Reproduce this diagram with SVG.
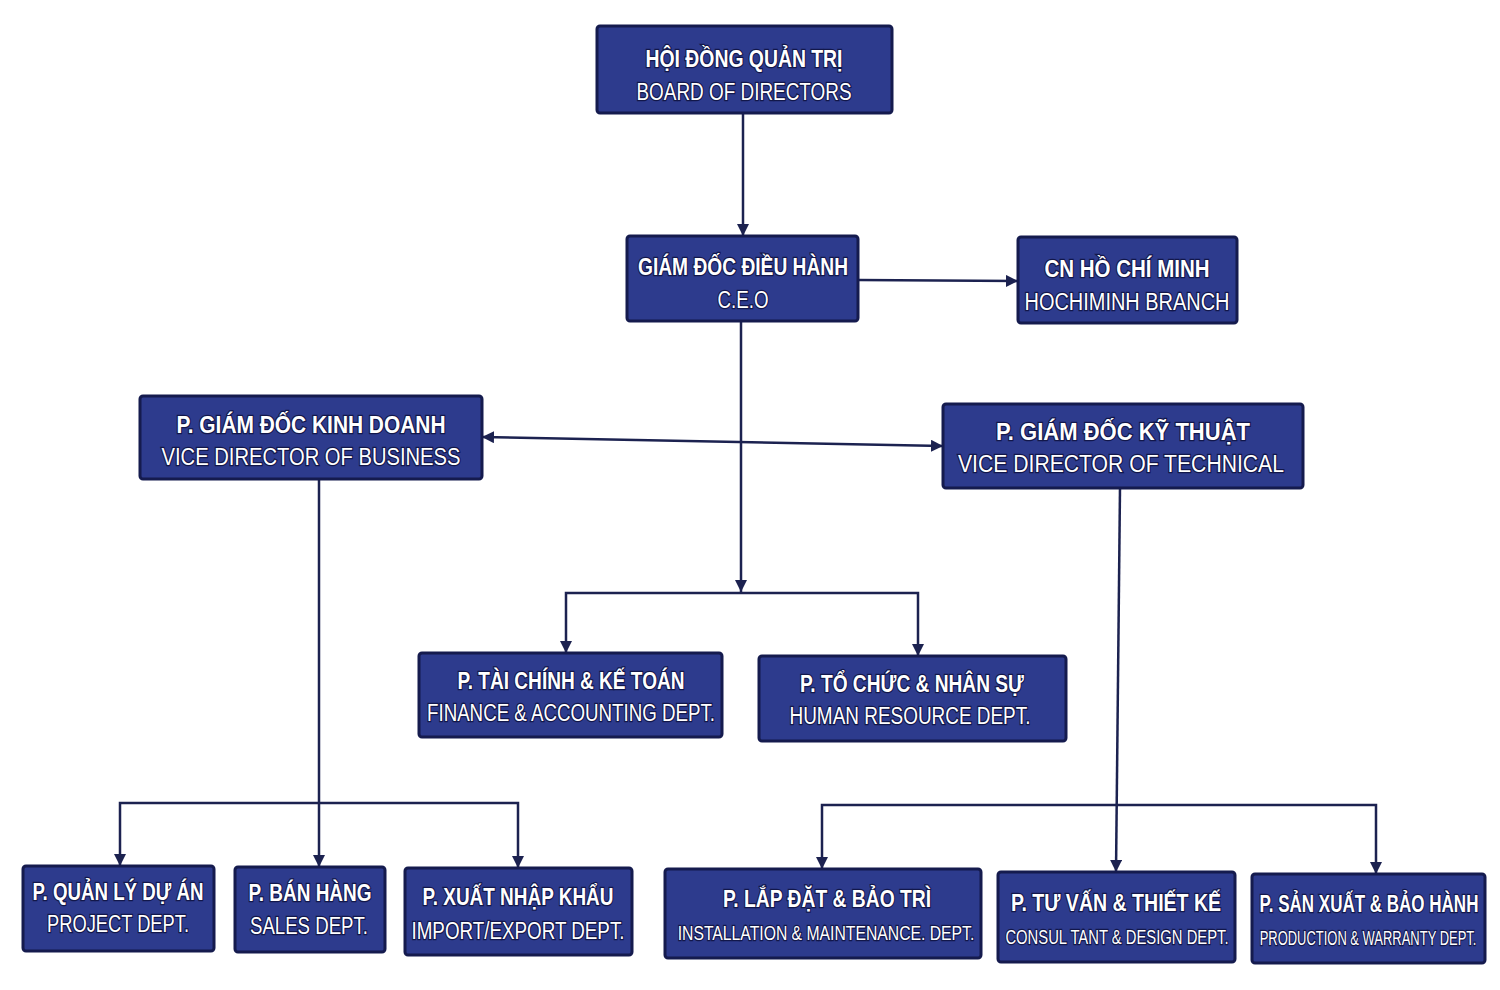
<svg xmlns="http://www.w3.org/2000/svg" width="1500" height="990" viewBox="0 0 1500 990">
<defs>
<marker id="ah" viewBox="0 0 12 12" refX="12" refY="6" markerWidth="12" markerHeight="12" markerUnits="userSpaceOnUse" orient="auto-start-reverse">
<path d="M0,0 L12,6 L0,12 Z" fill="#1c2250"/>
</marker>
<style>
.box{fill:#2d3b8d;stroke:#151b4e;stroke-width:3}
.t1,.t2{fill:#ffffff;stroke:#12174a;stroke-width:2.5;paint-order:stroke;text-anchor:middle;font-family:"Liberation Sans Narrow","Liberation Sans",Arial,sans-serif}
.t1{font-weight:bold;font-size:24px}
.t2{font-size:23px}
.t3{font-size:20px}
.c{fill:none;stroke:#1c2250;stroke-width:2.5}
</style>
</defs>
<rect width="1500" height="990" fill="#ffffff"/>
<g id="connectors">
<path class="c" d="M743,113 V236" marker-end="url(#ah)"/>
<path class="c" d="M858,280 L1018,281" marker-end="url(#ah)"/>
<path class="c" d="M482,437 L943,446" marker-start="url(#ah)" marker-end="url(#ah)"/>
<path class="c" d="M741,321 V592" marker-end="url(#ah)"/>
<path class="c" d="M566,653 V593 H918 V656" marker-start="url(#ah)" marker-end="url(#ah)"/>
<path class="c" d="M319,479 V867" marker-end="url(#ah)"/>
<path class="c" d="M120,866 V803 H518 V868" marker-start="url(#ah)" marker-end="url(#ah)"/>
<path class="c" d="M1120,488 L1116,872" marker-end="url(#ah)"/>
<path class="c" d="M822,869 V805 H1376 V874" marker-start="url(#ah)" marker-end="url(#ah)"/>
</g>
<g id="board"><rect class="box" x="597" y="26" width="295" height="87" rx="3"/>
<text class="t1" x="744" y="67" textLength="197" lengthAdjust="spacingAndGlyphs">HỘI ĐỒNG QUẢN TRỊ</text>
<text class="t2" x="744" y="100" textLength="215" lengthAdjust="spacingAndGlyphs">BOARD OF DIRECTORS</text></g>
<g id="ceo"><rect class="box" x="627" y="236" width="231" height="85" rx="3"/>
<text class="t1" x="743" y="275" textLength="210" lengthAdjust="spacingAndGlyphs">GIÁM ĐỐC ĐIỀU HÀNH</text>
<text class="t2" x="743" y="308" textLength="51" lengthAdjust="spacingAndGlyphs">C.E.O</text></g>
<g id="hcm"><rect class="box" x="1018" y="237" width="219" height="86" rx="3"/>
<text class="t1" x="1127" y="277" textLength="165" lengthAdjust="spacingAndGlyphs">CN HỒ CHÍ MINH</text>
<text class="t2" x="1127" y="310" textLength="205" lengthAdjust="spacingAndGlyphs">HOCHIMINH BRANCH</text></g>
<g id="vd-business"><rect class="box" x="140" y="396" width="342" height="83" rx="3"/>
<text class="t1" x="311" y="433" textLength="269" lengthAdjust="spacingAndGlyphs">P. GIÁM ĐỐC KINH DOANH</text>
<text class="t2" x="311" y="465" textLength="299" lengthAdjust="spacingAndGlyphs">VICE DIRECTOR OF BUSINESS</text></g>
<g id="vd-technical"><rect class="box" x="943" y="404" width="360" height="84" rx="3"/>
<text class="t1" x="1123" y="440" textLength="254" lengthAdjust="spacingAndGlyphs">P. GIÁM ĐỐC KỸ THUẬT</text>
<text class="t2" x="1121" y="472" textLength="326" lengthAdjust="spacingAndGlyphs">VICE DIRECTOR OF TECHNICAL</text></g>
<g id="finance"><rect class="box" x="419" y="653" width="303" height="84" rx="3"/>
<text class="t1" x="571" y="689" textLength="227" lengthAdjust="spacingAndGlyphs">P. TÀI CHÍNH &amp; KẾ TOÁN</text>
<text class="t2" x="571" y="721" textLength="288" lengthAdjust="spacingAndGlyphs">FINANCE &amp; ACCOUNTING DEPT.</text></g>
<g id="hr"><rect class="box" x="759" y="656" width="307" height="85" rx="3"/>
<text class="t1" x="912" y="692" textLength="224" lengthAdjust="spacingAndGlyphs">P. TỔ CHỨC &amp; NHÂN SỰ</text>
<text class="t2" x="910" y="724" textLength="241" lengthAdjust="spacingAndGlyphs">HUMAN RESOURCE DEPT.</text></g>
<g id="project"><rect class="box" x="23" y="866" width="191" height="85" rx="3"/>
<text class="t1" x="118" y="900" textLength="171" lengthAdjust="spacingAndGlyphs">P. QUẢN LÝ DỰ ÁN</text>
<text class="t2" x="118" y="932" textLength="142" lengthAdjust="spacingAndGlyphs">PROJECT DEPT.</text></g>
<g id="sales"><rect class="box" x="235" y="867" width="150" height="85" rx="3"/>
<text class="t1" x="310" y="901" textLength="123" lengthAdjust="spacingAndGlyphs">P. BÁN HÀNG</text>
<text class="t2" x="309" y="934" textLength="118" lengthAdjust="spacingAndGlyphs">SALES DEPT.</text></g>
<g id="import-export"><rect class="box" x="405" y="868" width="227" height="87" rx="3"/>
<text class="t1" x="518" y="905" textLength="191" lengthAdjust="spacingAndGlyphs">P. XUẤT NHẬP KHẨU</text>
<text class="t2" x="518" y="939" textLength="213" lengthAdjust="spacingAndGlyphs">IMPORT/EXPORT DEPT.</text></g>
<g id="installation"><rect class="box" x="665" y="869" width="316" height="89" rx="3"/>
<text class="t1" transform="translate(827,907) scale(0.72,1)" x="0" y="0" textLength="289" lengthAdjust="spacingAndGlyphs">P. LẮP ĐẶT &amp; BẢO TRÌ</text>
<text class="t2 t3" transform="translate(826,940) scale(0.72,1)" x="0" y="0" textLength="412" lengthAdjust="spacingAndGlyphs">INSTALLATION &amp; MAINTENANCE. DEPT.</text></g>
<g id="consultant"><rect class="box" x="998" y="872" width="237" height="90" rx="3"/>
<text class="t1" transform="translate(1116,911) scale(0.72,1)" x="0" y="0" textLength="292" lengthAdjust="spacingAndGlyphs">P. TƯ VẤN &amp; THIẾT KẾ</text>
<text class="t2 t3" transform="translate(1117,944) scale(0.72,1)" x="0" y="0" textLength="310" lengthAdjust="spacingAndGlyphs">CONSUL TANT &amp; DESIGN DEPT.</text></g>
<g id="production"><rect class="box" x="1252" y="874" width="233" height="89" rx="3"/>
<text class="t1" transform="translate(1369,912) scale(0.72,1)" x="0" y="0" textLength="304" lengthAdjust="spacingAndGlyphs">P. SẢN XUẤT &amp; BẢO HÀNH</text>
<text class="t2 t3" transform="translate(1368,945) scale(0.72,1)" x="0" y="0" textLength="301" lengthAdjust="spacingAndGlyphs">PRODUCTION &amp; WARRANTY DEPT.</text></g>
</svg>
